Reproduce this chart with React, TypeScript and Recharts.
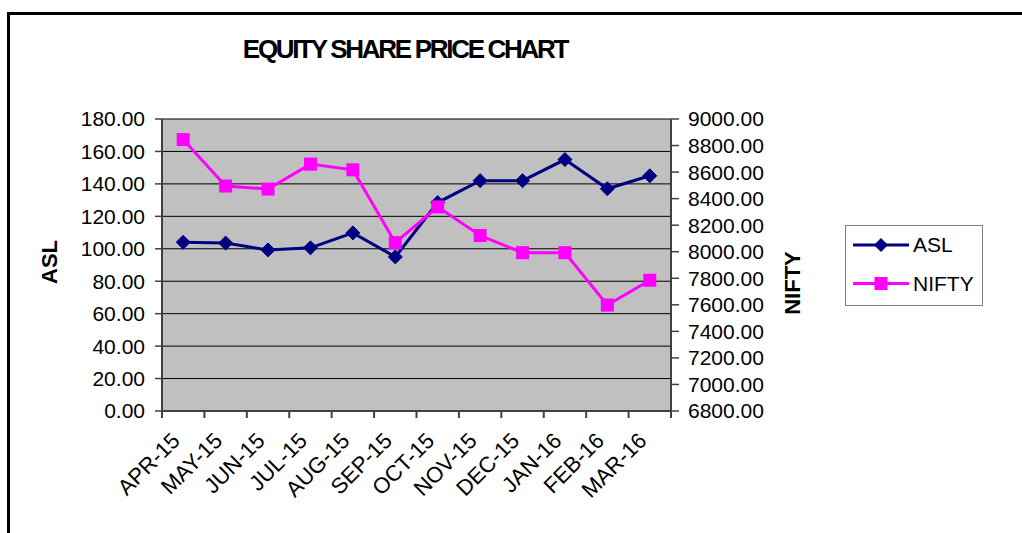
import React from 'react';
import { LineChart, Line, XAxis, YAxis, CartesianGrid, Legend } from 'recharts';

const months = ['APR-15', 'MAY-15', 'JUN-15', 'JUL-15', 'AUG-15', 'SEP-15', 'OCT-15', 'NOV-15', 'DEC-15', 'JAN-16', 'FEB-16', 'MAR-16'];
const aslValues = [104, 103.5, 99.3, 100.6, 109.8, 95, 128.5, 142, 142, 155, 137, 145];
const niftyValues = [8845, 8495, 8472, 8660, 8617, 8068, 8338, 8122, 7993, 7993, 7598, 7785];
const aslTicks = [0, 20, 40, 60, 80, 100, 120, 140, 160, 180];
const niftyTicks = [6800, 7000, 7200, 7400, 7600, 7800, 8000, 8200, 8400, 8600, 8800, 9000];
const seriesNames = ['ASL', 'NIFTY'];
const seriesColors = ['#000080', '#FF00FF'];

const data = months.map((m, i) => ({ month: m, ASL: aslValues[i], NIFTY: niftyValues[i] }));

const FONT = '"Liberation Sans", Arial, sans-serif';

const Diamond = (props: any) => {
  const { cx, cy, index } = props;
  if (cx == null || cy == null) return <g key={`d-${index}`} />;
  const r = 7;
  return (
    <path key={`d-${index}`} d={`M${cx},${cy - r}L${cx + r},${cy}L${cx},${cy + r}L${cx - r},${cy}Z`} fill="#000080" stroke="#000080" strokeWidth={1} />
  );
};

const Square = (props: any) => {
  const { cx, cy, index } = props;
  if (cx == null || cy == null) return <g key={`s-${index}`} />;
  const h = 6.5;
  return <rect key={`s-${index}`} x={cx - h} y={cy - h} width={h * 2} height={h * 2} fill="#FF00FF" />;
};

const XTick = (props: any) => {
  const { x, y, payload, index, visibleTicksCount, width } = props;
  let off = payload && typeof payload.offset === 'number' ? payload.offset : 0;
  if (!off && width && visibleTicksCount) off = width / visibleTicksCount / 2;
  const isLast = index === visibleTicksCount - 1;
  const ax = x - 2;
  const ay = y + 31;
  return (
    <g>
      <line x1={x - off} x2={x - off} y1={y} y2={y + 7} stroke="#404040" strokeWidth={2} />
      {isLast && <line x1={x + off} x2={x + off} y1={y} y2={y + 7} stroke="#404040" strokeWidth={2} />}
      <text
        x={ax}
        y={ay}
        textAnchor="end"
        transform={`rotate(-45, ${ax}, ${ay})`}
        fontFamily={FONT}
        fontSize={22}
        fill="#000"
      >
        {payload.value}
      </text>
    </g>
  );
};

const renderLegend = () => (
  <svg width={140} height={82} style={{ display: 'block' }}>
    <rect x={0.5} y={0.5} width={137} height={80} fill="#fff" stroke="#808080" strokeWidth={1} />
    <line x1={8} x2={64} y1={20} y2={20} stroke={seriesColors[0]} strokeWidth={3} />
    <path d="M36,13L43,20L36,27L29,20Z" fill={seriesColors[0]} />
    <text x={68} y={27} fontFamily={FONT} fontSize={21} fill="#000">{seriesNames[0]}</text>
    <line x1={8} x2={64} y1={58.5} y2={58.5} stroke={seriesColors[1]} strokeWidth={3} />
    <rect x={29.5} y={52} width={13} height={13} fill={seriesColors[1]} />
    <text x={68} y={66} fontFamily={FONT} fontSize={21} fill="#000">{seriesNames[1]}</text>
  </svg>
);

export default function App() {
  return (
    <div style={{ position: 'absolute', left: 0, top: 0, width: 1022, height: 533, overflow: 'hidden', background: '#fff' }}>
      <div
        style={{
          position: 'absolute',
          left: 7,
          top: 12,
          width: 1100,
          height: 600,
          borderLeft: '3px solid #000',
          borderTop: '3px solid #000',
        }}
      />
      <div style={{ position: 'absolute', left: 0, top: 0 }}>
        <LineChart width={1022} height={533} data={data} margin={{ top: 119, right: 0, bottom: 22, left: 0 }}>
          <CartesianGrid yAxisId="left" vertical={false} horizontal={true} stroke="#000" strokeWidth={1} fill="#C0C0C0" fillOpacity={1} />
          <XAxis
            dataKey="month"
            scale="band"
            height={100}
            tickSize={0}
            tickMargin={0}
            interval={0}
            tick={<XTick />}
            axisLine={{ stroke: '#404040', strokeWidth: 2 }}
            tickLine={false}
          />
          <YAxis
            yAxisId="left"
            orientation="left"
            width={162}
            domain={[0, 180]}
            ticks={aslTicks}
            interval={0}
            tickFormatter={(v: number) => v.toFixed(2)}
            tick={{ fontFamily: FONT, fontSize: 21, fill: '#000' }}
            tickSize={7}
            tickMargin={10}
            axisLine={{ stroke: '#404040', strokeWidth: 2 }}
            tickLine={{ stroke: '#404040', strokeWidth: 1.5 }}
          />
          <YAxis
            yAxisId="right"
            orientation="right"
            width={351}
            domain={[6800, 9000]}
            ticks={niftyTicks}
            interval={0}
            tickFormatter={(v: number) => v.toFixed(2)}
            tick={{ fontFamily: FONT, fontSize: 21, fill: '#000' }}
            tickSize={8}
            tickMargin={9}
            axisLine={{ stroke: '#404040', strokeWidth: 2 }}
            tickLine={{ stroke: '#404040', strokeWidth: 1.5 }}
          />
          <Legend
            layout="horizontal"
            verticalAlign="middle"
            align="center"
            content={renderLegend}
            wrapperStyle={{ position: 'absolute', left: 845, top: 225, width: 140, height: 82 }}
          />
          <Line
            yAxisId="left"
            dataKey="ASL"
            name={seriesNames[0]}
            stroke={seriesColors[0]}
            strokeWidth={3}
            dot={<Diamond />}
            activeDot={false}
            isAnimationActive={false}
          />
          <Line
            yAxisId="right"
            dataKey="NIFTY"
            name={seriesNames[1]}
            stroke={seriesColors[1]}
            strokeWidth={3}
            dot={<Square />}
            activeDot={false}
            isAnimationActive={false}
          />
        </LineChart>
      </div>
      <svg width={1022} height={533} style={{ position: 'absolute', left: 0, top: 0, pointerEvents: 'none' }}>
        <text x={405} y={57.5} textAnchor="middle" fontFamily={FONT} fontWeight="bold" fontSize={26} letterSpacing={-2.3} fill="#000">
          EQUITY SHARE PRICE CHART
        </text>
        <text x={0} y={0} transform="translate(57, 262) rotate(-90)" textAnchor="middle" fontFamily={FONT} fontWeight="bold" fontSize={22} fill="#000">
          ASL
        </text>
        <text x={0} y={0} transform="translate(800, 283) rotate(-90)" textAnchor="middle" fontFamily={FONT} fontWeight="bold" fontSize={22} fill="#000">
          NIFTY
        </text>
      </svg>
    </div>
  );
}
